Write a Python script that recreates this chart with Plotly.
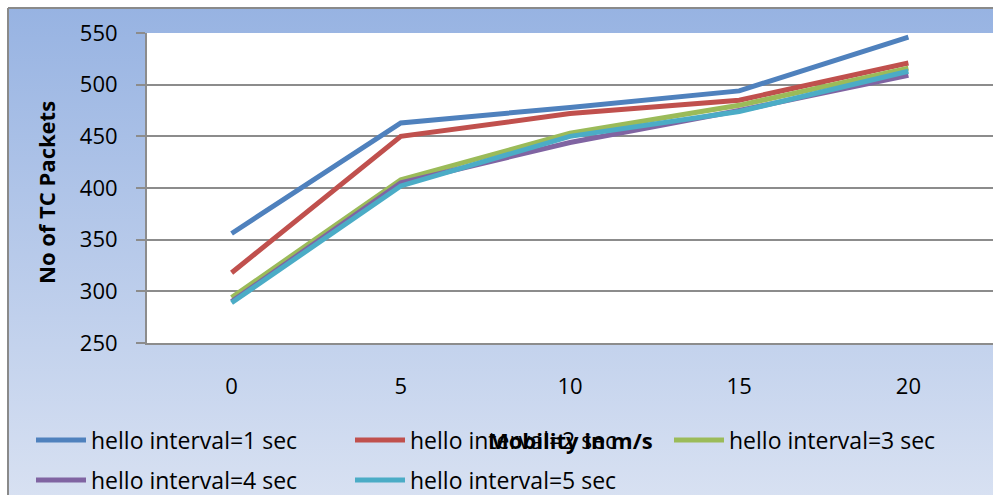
import plotly.graph_objects as go

# ---- data ----
mobility = ["0", "5", "10", "15", "20"]
hello_1 = [356, 463, 478, 494, 546]
hello_2 = [318, 450, 472, 485, 521]
hello_3 = [294, 408, 453, 480, 516]
hello_4 = [290, 405, 444, 475, 509]
hello_5 = [289, 402, 450, 474, 513]
series_names = ["hello interval=1 sec", "hello interval=2 sec", "hello interval=3 sec",
                "hello interval=4 sec", "hello interval=5 sec"]
series_values = [hello_1, hello_2, hello_3, hello_4, hello_5]
colors = ["#4F81BD", "#C0504D", "#9BBB59", "#8064A2", "#4BACC6"]
legend_ids = ["legend", "legend", "legend3", "legend2", "legend2"]

W, H = 993, 495
L, R, T, B = 147, 0, 33, 152
FONT = "Open Sans"

fig = go.Figure()
for name, vals, col, lg in zip(series_names, series_values, colors, legend_ids):
    fig.add_trace(go.Scatter(x=mobility, y=vals, name=name, mode="lines",
                             line=dict(color=col, width=5), legend=lg))

pw = W - L - R
ph = H - T - B
def px_x(p):
    return (p - L) / pw
def px_y(p):
    return (H - B - p) / ph

grad_svg = ("data:image/svg+xml;utf8,"
            "<svg xmlns='http://www.w3.org/2000/svg' width='100' height='100' preserveAspectRatio='none'>"
            "<defs><linearGradient id='g' x1='0' y1='0' x2='0' y2='1'>"
            "<stop offset='0' stop-color='%2397B3E2'/>"
            "<stop offset='1' stop-color='%23D8E1F2'/>"
            "</linearGradient></defs>"
            "<rect width='100' height='100' fill='url(%23g)'/></svg>")

fig.add_layout_image(dict(source=grad_svg, xref="paper", yref="paper",
                          x=px_x(8), y=px_y(8), sizex=px_x(W + 5) - px_x(8),
                          sizey=px_y(8) - px_y(H + 5), xanchor="left", yanchor="top",
                          sizing="stretch", layer="below"))

leg_common = dict(orientation="h", xref="container", yref="container",
                  xanchor="left", yanchor="middle",
                  entrywidth=254, entrywidthmode="pixels", itemwidth=50,
                  bgcolor="rgba(0,0,0,0)", font=dict(size=23))

fig.update_layout(
    width=W, height=H,
    margin=dict(l=L, r=R, t=T, b=B, autoexpand=False),
    paper_bgcolor="white",
    plot_bgcolor="white",
    font=dict(family=FONT, size=22, color="black"),
    shapes=[
        dict(type="rect", xref="paper", yref="paper", x0=0, x1=1, y0=0, y1=1,
             fillcolor="white", line=dict(width=0), layer="below"),
        dict(type="line", xref="paper", yref="paper", x0=px_x(8), x1=px_x(W + 5),
             y0=px_y(8), y1=px_y(8), line=dict(color="#8A8A8A", width=2)),
        dict(type="line", xref="paper", yref="paper", x0=px_x(8), x1=px_x(8),
             y0=px_y(8), y1=px_y(H + 5), line=dict(color="#8A8A8A", width=2)),
    ],
    annotations=[
        dict(text="<b>Mobility in m/s</b>", xref="paper", yref="paper",
             x=0.5, y=px_y(440), xanchor="center", yanchor="middle",
             showarrow=False, font=dict(size=22)),
        dict(text="<b>No of TC Packets</b>", xref="paper", yref="paper",
             x=px_x(46), y=px_y(193), xanchor="center", yanchor="middle",
             textangle=-90, showarrow=False, font=dict(size=22)),
    ],
    xaxis=dict(type="category", range=[-0.5, 4.5], showgrid=False, automargin=False,
               showline=True, linecolor="#8C8C8C", linewidth=2, ticks="",
               ticklabelstandoff=23, tickfont=dict(size=22)),
    yaxis=dict(range=[250, 550], dtick=50, showgrid=True, gridcolor="#8C8C8C", gridwidth=2,
               automargin=False,
               showline=True, linecolor="#8C8C8C", linewidth=2, zeroline=False,
               ticks="outside", ticklen=9, tickcolor="#8C8C8C", tickwidth=2,
               ticklabelstandoff=14, tickfont=dict(size=22)),
    legend=dict(x=31 / W, y=1 - 440 / H, **leg_common),
    legend3=dict(x=669 / W, y=1 - 440 / H, **leg_common),
    legend2=dict(x=31 / W, y=1 - 480 / H, **leg_common),
)

fig.write_html("out.html")
